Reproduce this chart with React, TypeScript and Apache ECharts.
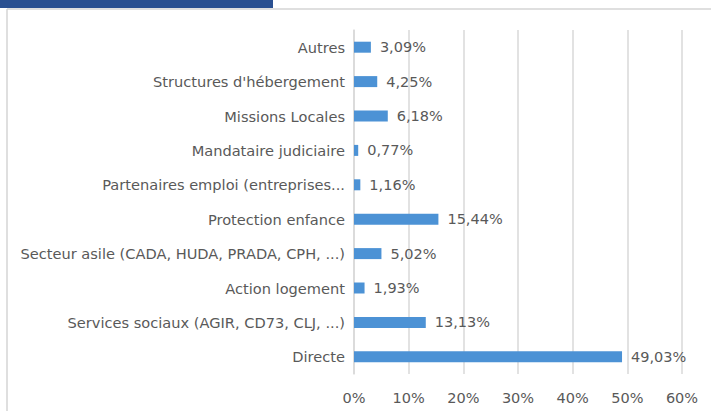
import React, { useEffect, useRef } from "react";
import * as echarts from "echarts";

const categories = [
  "Autres",
  "Structures d'hébergement",
  "Missions Locales",
  "Mandataire judiciaire",
  "Partenaires emploi (entreprises...",
  "Protection enfance",
  "Secteur asile (CADA, HUDA, PRADA, CPH, ...)",
  "Action logement",
  "Services sociaux (AGIR, CD73, CLJ, ...)",
  "Directe",
];
const values = [3.09, 4.25, 6.18, 0.77, 1.16, 15.44, 5.02, 1.93, 13.13, 49.03];
const xTicks = [0, 10, 20, 30, 40, 50, 60];

export default function App() {
  const ref = useRef<HTMLDivElement>(null);
  useEffect(() => {
    const chart = echarts.init(ref.current!, null, { renderer: "svg" });
    const font = "'DejaVu Sans', sans-serif";
    chart.setOption({
      animation: false,
      backgroundColor: "#ffffff",
      graphic: [
        { type: "rect", shape: { x: 0, y: 0, width: 273, height: 8 }, style: { fill: "#2a5091" } },
        { type: "line", shape: { x1: 7, y1: 9, x2: 711, y2: 9 }, style: { stroke: "#d4d4d4", lineWidth: 1.5 } },
        { type: "line", shape: { x1: 7, y1: 9, x2: 7, y2: 411 }, style: { stroke: "#d4d4d4", lineWidth: 1.5 } },
      ],
      grid: { left: 354, right: 29, top: 30, bottom: 37, containLabel: false },
      xAxis: {
        type: "value",
        min: xTicks[0],
        max: xTicks[xTicks.length - 1],
        interval: 10,
        axisLine: { show: false },
        axisTick: { show: false },
        splitLine: { show: true, lineStyle: { color: "#d9d9d9", width: 1.5 } },
        axisLabel: {
          formatter: (v: number) => v + "%",
          color: "#595959",
          fontFamily: font,
          fontSize: 14.5,
          margin: 16,
        },
      },
      yAxis: {
        type: "category",
        data: categories,
        inverse: true,
        axisLine: { show: true, lineStyle: { color: "#d9d9d9", width: 1.5 } },
        axisTick: { show: false },
        axisLabel: { color: "#595959", fontFamily: font, fontSize: 14.6, margin: 9 },
      },
      series: [
        {
          type: "bar",
          data: values,
          barWidth: 11,
          itemStyle: { color: "#4c92d5" },
          label: {
            show: true,
            position: "right",
            distance: 9,
            color: "#595959",
            fontFamily: font,
            fontSize: 14.5,
            formatter: (p: any) => p.value.toFixed(2).replace(".", ",") + "%",
          },
        },
      ],
    });
    return () => chart.dispose();
  }, []);
  return <div ref={ref} style={{ position: "fixed", left: 0, top: 0, width: 711, height: 411 }} />;
}
